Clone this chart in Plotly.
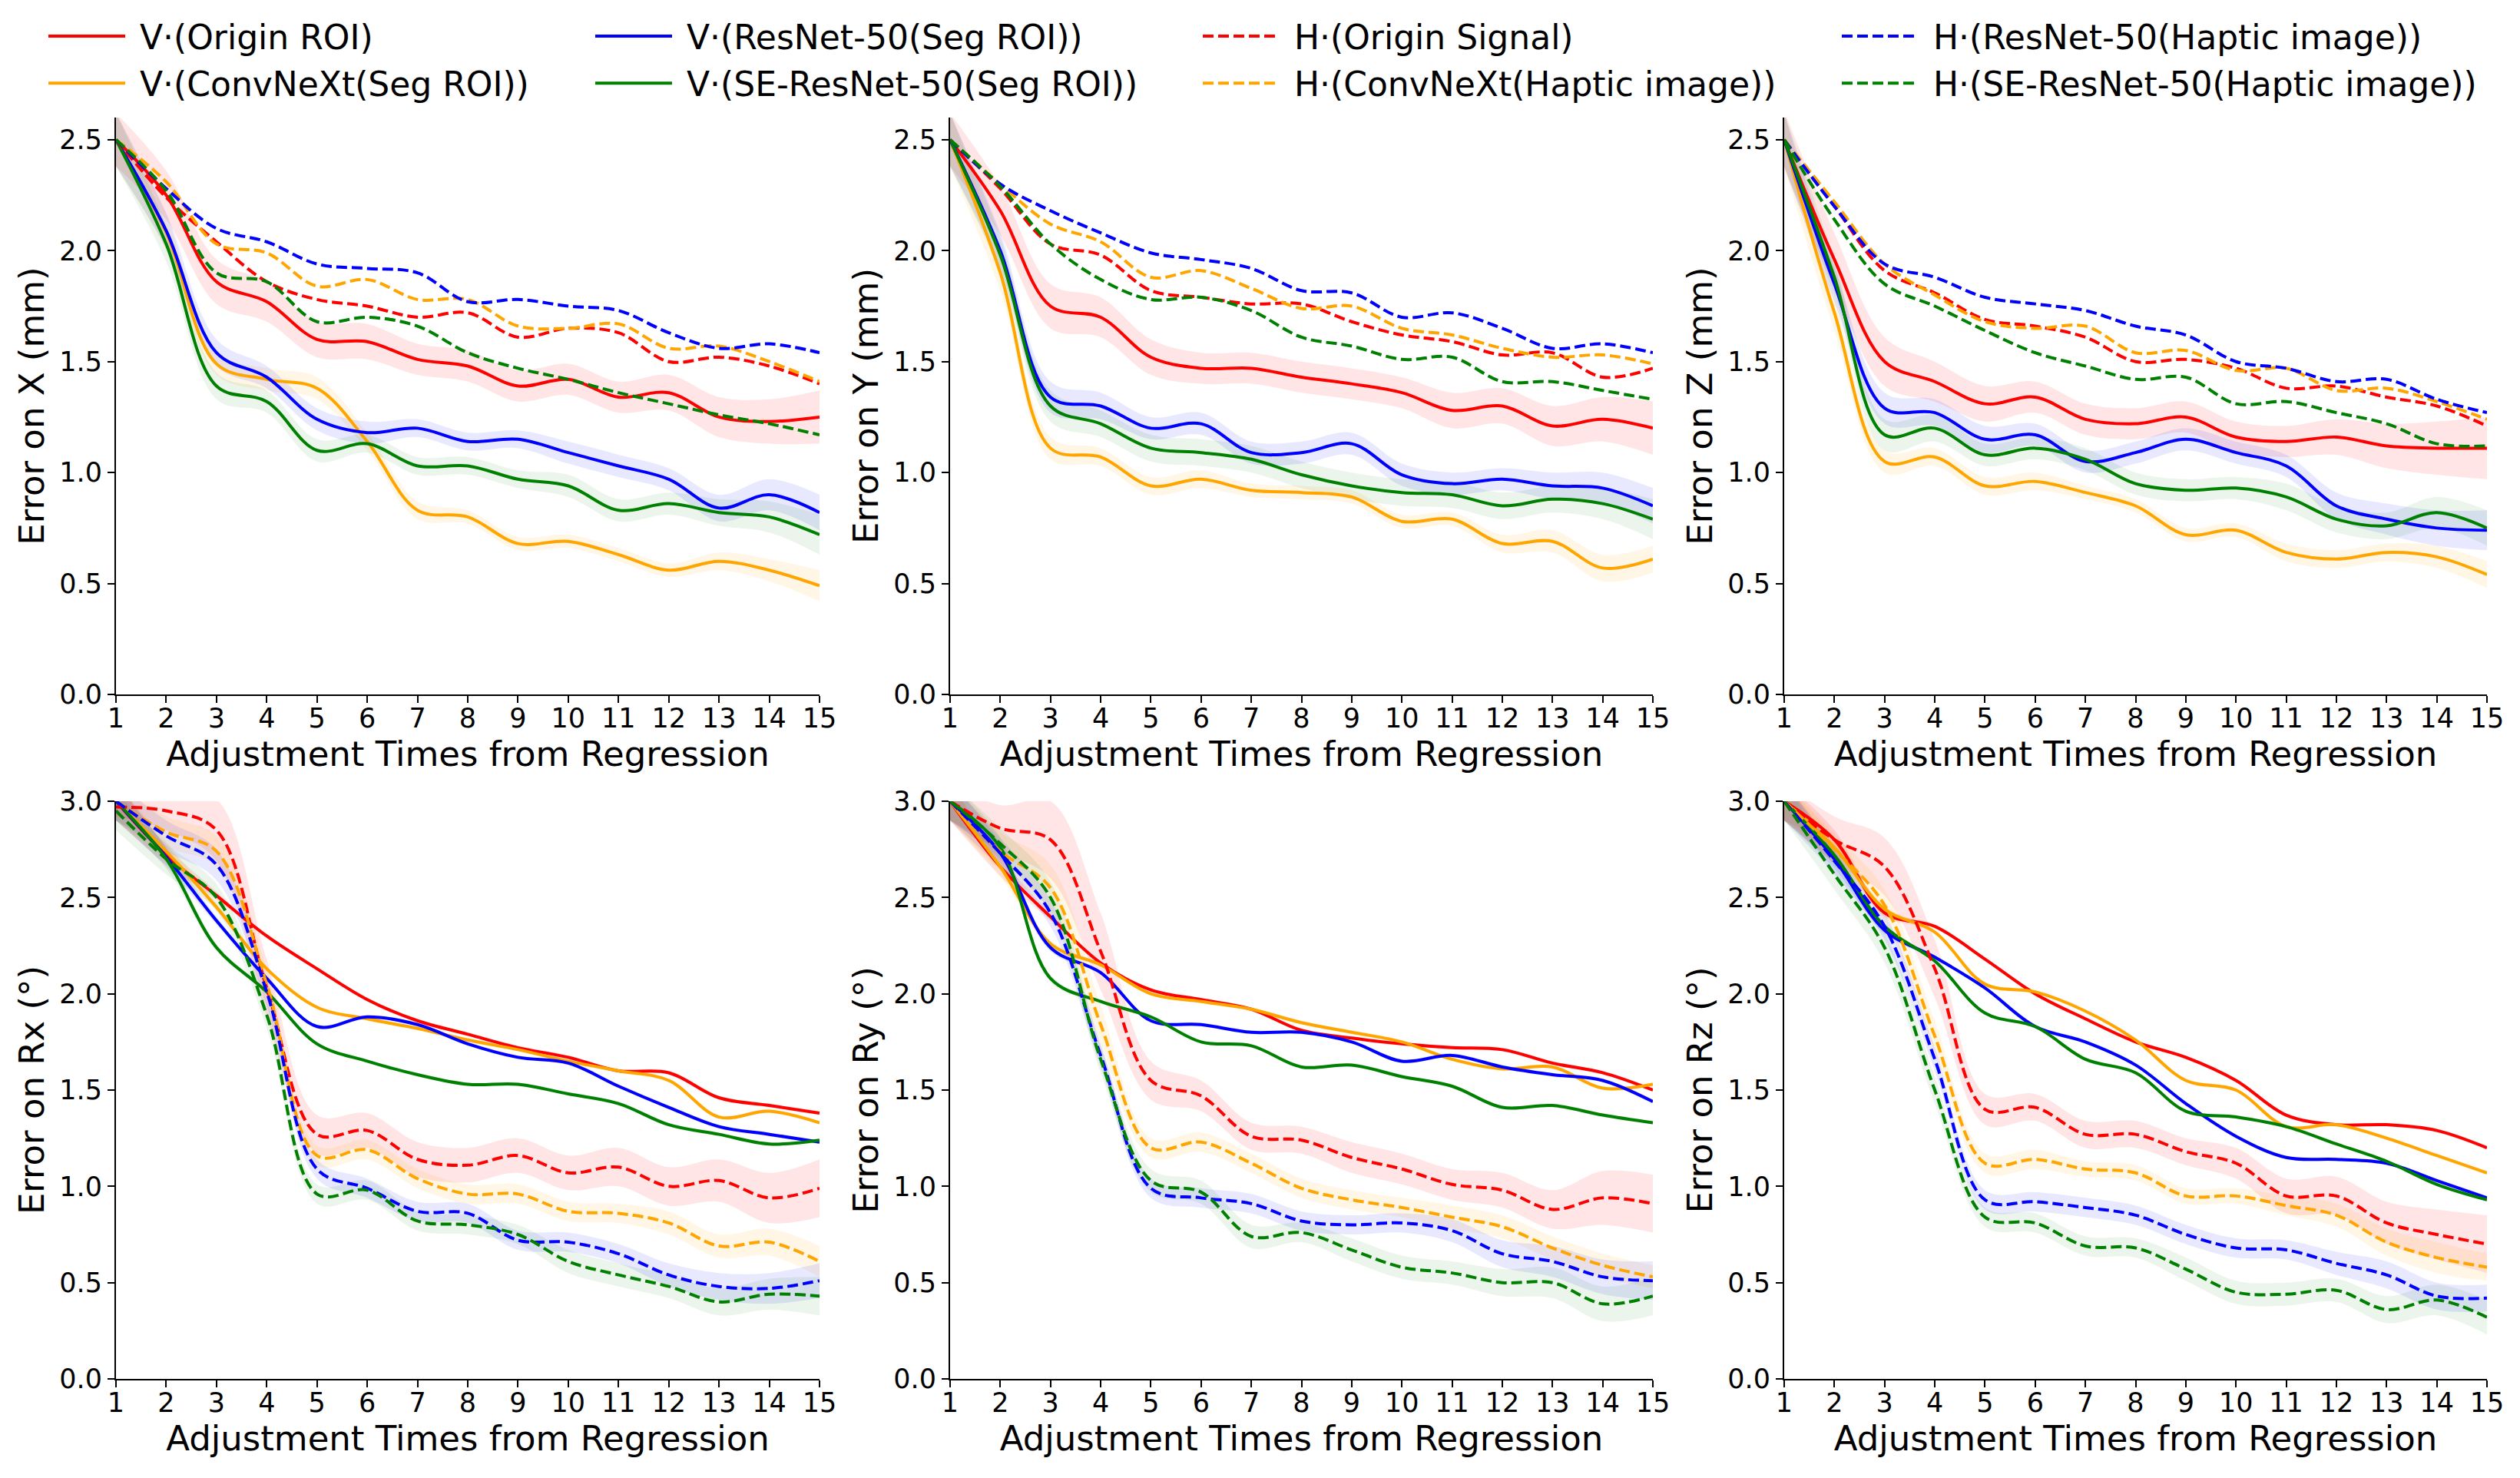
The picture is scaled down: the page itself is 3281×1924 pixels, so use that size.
import plotly.graph_objects as go

X = list(range(1, 16))
XTICKS = list(range(1, 16))
NAMES = ["V·(Origin ROI)", "V·(ConvNeXt(Seg ROI))", "V·(ResNet-50(Seg ROI))", "V·(SE-ResNet-50(Seg ROI))",
         "H·(Origin Signal)", "H·(ConvNeXt(Haptic image))", "H·(ResNet-50(Haptic image))", "H·(SE-ResNet-50(Haptic image))"]
YTITLES = ["Error on X (mm)", "Error on Y (mm)", "Error on Z (mm)",
           "Error on Rx (°)", "Error on Ry (°)", "Error on Rz (°)"]
XTITLE = "Adjustment Times from Regression"

# ---------- Error on X ----------
X_V_ORI = [2.50, 2.25, 1.86, 1.77, 1.60, 1.59, 1.51, 1.48, 1.39, 1.42, 1.34, 1.36, 1.25, 1.23, 1.25]
X_V_CNX = [2.50, 2.08, 1.49, 1.42, 1.38, 1.14, 0.83, 0.80, 0.68, 0.69, 0.63, 0.56, 0.60, 0.56, 0.49]
X_V_RES = [2.50, 2.09, 1.54, 1.43, 1.24, 1.18, 1.20, 1.14, 1.15, 1.09, 1.03, 0.97, 0.84, 0.90, 0.82]
X_V_SER = [2.50, 2.03, 1.39, 1.32, 1.10, 1.13, 1.03, 1.03, 0.97, 0.94, 0.83, 0.86, 0.82, 0.80, 0.72]
X_H_ORI = [2.50, 2.24, 2.04, 1.86, 1.78, 1.75, 1.70, 1.72, 1.61, 1.65, 1.63, 1.50, 1.52, 1.48, 1.40]
X_H_CNX = [2.50, 2.31, 2.03, 1.99, 1.84, 1.87, 1.78, 1.78, 1.66, 1.65, 1.67, 1.56, 1.57, 1.50, 1.41]
X_H_RES = [2.50, 2.28, 2.10, 2.04, 1.94, 1.92, 1.90, 1.77, 1.78, 1.75, 1.73, 1.63, 1.56, 1.58, 1.54]
X_H_SER = [2.50, 2.27, 1.90, 1.86, 1.68, 1.70, 1.66, 1.54, 1.47, 1.42, 1.36, 1.31, 1.26, 1.22, 1.17]
X_V_ORI_SD = [0.12, 0.11, 0.10, 0.09, 0.08, 0.08, 0.07, 0.07, 0.07, 0.07, 0.07, 0.08, 0.09, 0.10, 0.12]
X_V_CNX_SD = [0.12, 0.08, 0.05, 0.05, 0.05, 0.04, 0.04, 0.03, 0.03, 0.03, 0.03, 0.03, 0.04, 0.05, 0.07]
X_V_RES_SD = [0.12, 0.08, 0.06, 0.05, 0.05, 0.05, 0.04, 0.04, 0.04, 0.05, 0.05, 0.05, 0.06, 0.07, 0.08]
X_V_SER_SD = [0.12, 0.08, 0.06, 0.05, 0.05, 0.04, 0.04, 0.04, 0.04, 0.05, 0.05, 0.05, 0.06, 0.07, 0.09]

# ---------- Error on Y ----------
Y_V_ORI = [2.50, 2.18, 1.75, 1.70, 1.52, 1.47, 1.47, 1.43, 1.40, 1.36, 1.28, 1.30, 1.21, 1.24, 1.20]
Y_V_CNX = [2.50, 1.90, 1.11, 1.07, 0.94, 0.97, 0.92, 0.91, 0.89, 0.78, 0.79, 0.68, 0.69, 0.57, 0.61]
Y_V_RES = [2.50, 2.00, 1.34, 1.30, 1.20, 1.22, 1.09, 1.09, 1.13, 0.99, 0.95, 0.97, 0.94, 0.93, 0.85]
Y_V_SER = [2.50, 1.98, 1.30, 1.22, 1.11, 1.09, 1.06, 0.99, 0.94, 0.91, 0.90, 0.85, 0.88, 0.86, 0.79]
Y_H_ORI = [2.50, 2.28, 2.03, 1.98, 1.82, 1.79, 1.76, 1.76, 1.68, 1.62, 1.59, 1.53, 1.54, 1.43, 1.47]
Y_H_CNX = [2.50, 2.30, 2.12, 2.04, 1.88, 1.91, 1.83, 1.74, 1.75, 1.65, 1.62, 1.56, 1.52, 1.53, 1.49]
Y_H_RES = [2.50, 2.30, 2.18, 2.08, 1.99, 1.96, 1.92, 1.82, 1.81, 1.70, 1.72, 1.65, 1.56, 1.58, 1.54]
Y_H_SER = [2.50, 2.29, 2.03, 1.87, 1.78, 1.79, 1.73, 1.61, 1.57, 1.51, 1.52, 1.41, 1.41, 1.37, 1.33]
Y_V_ORI_SD = [0.12, 0.11, 0.10, 0.09, 0.08, 0.07, 0.07, 0.07, 0.07, 0.07, 0.08, 0.08, 0.09, 0.10, 0.12]
Y_V_CNX_SD = [0.12, 0.08, 0.05, 0.04, 0.04, 0.04, 0.03, 0.03, 0.03, 0.03, 0.03, 0.04, 0.05, 0.06, 0.06]
Y_V_RES_SD = [0.12, 0.08, 0.07, 0.06, 0.05, 0.05, 0.05, 0.05, 0.05, 0.05, 0.05, 0.05, 0.06, 0.07, 0.08]
Y_V_SER_SD = [0.12, 0.08, 0.07, 0.06, 0.06, 0.06, 0.06, 0.06, 0.06, 0.06, 0.06, 0.06, 0.06, 0.07, 0.09]

# ---------- Error on Z ----------
Z_V_ORI = [2.50, 1.96, 1.50, 1.41, 1.31, 1.34, 1.24, 1.22, 1.25, 1.16, 1.14, 1.16, 1.12, 1.11, 1.11]
Z_V_CNX = [2.50, 1.72, 1.05, 1.07, 0.94, 0.96, 0.91, 0.85, 0.72, 0.74, 0.64, 0.61, 0.64, 0.62, 0.54]
Z_V_RES = [2.50, 1.85, 1.29, 1.27, 1.15, 1.17, 1.05, 1.09, 1.15, 1.09, 1.03, 0.85, 0.79, 0.75, 0.74]
Z_V_SER = [2.50, 1.88, 1.17, 1.20, 1.08, 1.11, 1.06, 0.95, 0.92, 0.93, 0.89, 0.79, 0.76, 0.82, 0.75]
Z_H_ORI = [2.50, 2.20, 1.91, 1.81, 1.69, 1.66, 1.61, 1.50, 1.51, 1.47, 1.38, 1.39, 1.34, 1.30, 1.21]
Z_H_CNX = [2.50, 2.22, 1.94, 1.80, 1.68, 1.65, 1.66, 1.54, 1.55, 1.46, 1.47, 1.37, 1.38, 1.32, 1.24]
Z_H_RES = [2.50, 2.20, 1.94, 1.88, 1.79, 1.76, 1.73, 1.66, 1.62, 1.50, 1.47, 1.41, 1.42, 1.33, 1.27]
Z_H_SER = [2.50, 2.14, 1.85, 1.75, 1.64, 1.54, 1.48, 1.42, 1.43, 1.31, 1.32, 1.27, 1.22, 1.13, 1.12]
Z_V_ORI_SD = [0.13, 0.12, 0.11, 0.09, 0.08, 0.07, 0.07, 0.07, 0.07, 0.07, 0.07, 0.08, 0.10, 0.12, 0.14]
Z_V_CNX_SD = [0.12, 0.08, 0.05, 0.04, 0.04, 0.04, 0.03, 0.03, 0.03, 0.03, 0.04, 0.04, 0.04, 0.05, 0.06]
Z_V_RES_SD = [0.12, 0.08, 0.07, 0.06, 0.06, 0.05, 0.05, 0.05, 0.05, 0.05, 0.05, 0.06, 0.07, 0.08, 0.09]
Z_V_SER_SD = [0.12, 0.08, 0.07, 0.06, 0.05, 0.05, 0.05, 0.05, 0.05, 0.05, 0.06, 0.06, 0.06, 0.07, 0.08]

# ---------- Error on Rx ----------
RX_V_ORI = [3.00, 2.72, 2.51, 2.30, 2.13, 1.97, 1.86, 1.79, 1.72, 1.67, 1.60, 1.59, 1.46, 1.42, 1.38]
RX_V_CNX = [3.00, 2.74, 2.45, 2.13, 1.93, 1.87, 1.82, 1.76, 1.71, 1.65, 1.60, 1.55, 1.36, 1.39, 1.33]
RX_V_RES = [3.00, 2.71, 2.38, 2.08, 1.83, 1.88, 1.84, 1.74, 1.67, 1.64, 1.52, 1.41, 1.31, 1.27, 1.23]
RX_V_SER = [3.00, 2.70, 2.24, 2.01, 1.74, 1.65, 1.58, 1.53, 1.53, 1.48, 1.43, 1.32, 1.27, 1.22, 1.24]
RX_H_ORI = [2.97, 2.95, 2.85, 2.03, 1.27, 1.29, 1.14, 1.11, 1.16, 1.07, 1.10, 1.00, 1.03, 0.94, 0.99]
RX_H_CNX = [3.00, 2.84, 2.74, 2.05, 1.16, 1.19, 1.04, 0.96, 0.96, 0.87, 0.86, 0.81, 0.69, 0.71, 0.61]
RX_H_RES = [3.00, 2.82, 2.67, 2.01, 1.09, 0.99, 0.87, 0.86, 0.72, 0.71, 0.65, 0.54, 0.48, 0.47, 0.51]
RX_H_SER = [2.95, 2.70, 2.50, 1.89, 0.96, 0.98, 0.82, 0.80, 0.75, 0.61, 0.54, 0.48, 0.40, 0.44, 0.43]
RX_V_ORI_SD = [0.10, 0.05, 0.02, 0.01, 0.01, 0.01, 0.01, 0.01, 0.01, 0.01, 0.01, 0.01, 0.01, 0.01, 0.01]
RX_V_CNX_SD = [0.10, 0.05, 0.02, 0.01, 0.01, 0.01, 0.01, 0.01, 0.01, 0.01, 0.01, 0.01, 0.01, 0.01, 0.01]
RX_V_RES_SD = [0.10, 0.05, 0.02, 0.01, 0.01, 0.01, 0.01, 0.01, 0.01, 0.01, 0.01, 0.01, 0.01, 0.01, 0.01]
RX_V_SER_SD = [0.10, 0.05, 0.02, 0.01, 0.01, 0.01, 0.01, 0.01, 0.01, 0.01, 0.01, 0.01, 0.01, 0.01, 0.01]
RX_H_ORI_SD = [0.05, 0.10, 0.16, 0.15, 0.10, 0.09, 0.09, 0.09, 0.09, 0.09, 0.10, 0.10, 0.11, 0.13, 0.15]
RX_H_CNX_SD = [0.10, 0.08, 0.08, 0.08, 0.05, 0.05, 0.05, 0.05, 0.05, 0.05, 0.05, 0.06, 0.06, 0.07, 0.08]
RX_H_RES_SD = [0.10, 0.08, 0.08, 0.07, 0.05, 0.05, 0.05, 0.05, 0.05, 0.05, 0.05, 0.06, 0.07, 0.08, 0.09]
RX_H_SER_SD = [0.10, 0.08, 0.07, 0.07, 0.05, 0.05, 0.05, 0.05, 0.05, 0.06, 0.06, 0.06, 0.07, 0.08, 0.10]

# ---------- Error on Ry ----------
RY_V_ORI = [3.00, 2.66, 2.40, 2.16, 2.02, 1.97, 1.92, 1.81, 1.77, 1.74, 1.72, 1.71, 1.64, 1.59, 1.50]
RY_V_CNX = [3.00, 2.66, 2.26, 2.15, 2.00, 1.96, 1.92, 1.85, 1.80, 1.75, 1.66, 1.61, 1.62, 1.51, 1.53]
RY_V_RES = [3.00, 2.73, 2.24, 2.11, 1.86, 1.84, 1.80, 1.80, 1.75, 1.65, 1.68, 1.62, 1.58, 1.55, 1.44]
RY_V_SER = [3.00, 2.76, 2.08, 1.96, 1.88, 1.75, 1.73, 1.62, 1.63, 1.57, 1.52, 1.41, 1.42, 1.37, 1.33]
RY_H_ORI = [3.00, 2.86, 2.80, 2.22, 1.55, 1.47, 1.26, 1.24, 1.15, 1.09, 1.01, 0.98, 0.88, 0.94, 0.91]
RY_H_CNX = [3.00, 2.74, 2.55, 1.84, 1.20, 1.23, 1.12, 0.99, 0.93, 0.89, 0.84, 0.79, 0.68, 0.59, 0.53]
RY_H_RES = [3.00, 2.73, 2.42, 1.68, 0.99, 0.94, 0.91, 0.82, 0.80, 0.81, 0.77, 0.65, 0.61, 0.53, 0.51]
RY_H_SER = [3.00, 2.78, 2.50, 1.66, 1.03, 0.97, 0.74, 0.76, 0.67, 0.58, 0.55, 0.50, 0.50, 0.39, 0.43]
RY_V_ORI_SD = [0.10, 0.05, 0.02, 0.01, 0.01, 0.01, 0.01, 0.01, 0.01, 0.01, 0.01, 0.01, 0.01, 0.01, 0.01]
RY_V_CNX_SD = [0.10, 0.05, 0.02, 0.01, 0.01, 0.01, 0.01, 0.01, 0.01, 0.01, 0.01, 0.01, 0.01, 0.01, 0.01]
RY_V_RES_SD = [0.10, 0.05, 0.02, 0.01, 0.01, 0.01, 0.01, 0.01, 0.01, 0.01, 0.01, 0.01, 0.01, 0.01, 0.01]
RY_V_SER_SD = [0.10, 0.05, 0.02, 0.01, 0.01, 0.01, 0.01, 0.01, 0.01, 0.01, 0.01, 0.01, 0.01, 0.01, 0.01]
RY_H_ORI_SD = [0.10, 0.12, 0.20, 0.20, 0.10, 0.08, 0.07, 0.07, 0.08, 0.08, 0.08, 0.09, 0.10, 0.14, 0.15]
RY_H_CNX_SD = [0.10, 0.10, 0.12, 0.10, 0.05, 0.05, 0.05, 0.05, 0.05, 0.05, 0.06, 0.06, 0.06, 0.06, 0.06]
RY_H_RES_SD = [0.10, 0.08, 0.07, 0.06, 0.05, 0.05, 0.05, 0.05, 0.05, 0.05, 0.06, 0.07, 0.08, 0.09, 0.10]
RY_H_SER_SD = [0.10, 0.08, 0.08, 0.07, 0.06, 0.06, 0.06, 0.05, 0.06, 0.06, 0.06, 0.07, 0.08, 0.09, 0.10]

# ---------- Error on Rz ----------
RZ_V_ORI = [3.00, 2.80, 2.42, 2.35, 2.18, 2.00, 1.87, 1.75, 1.67, 1.55, 1.37, 1.32, 1.32, 1.29, 1.20]
RZ_V_CNX = [3.00, 2.76, 2.44, 2.32, 2.05, 2.01, 1.91, 1.76, 1.55, 1.50, 1.31, 1.32, 1.25, 1.16, 1.07]
RZ_V_RES = [3.00, 2.70, 2.33, 2.19, 2.03, 1.83, 1.75, 1.63, 1.43, 1.26, 1.15, 1.14, 1.12, 1.03, 0.94]
RZ_V_SER = [3.00, 2.72, 2.35, 2.17, 1.90, 1.83, 1.66, 1.59, 1.39, 1.36, 1.31, 1.22, 1.13, 1.01, 0.93]
RZ_H_ORI = [3.00, 2.80, 2.66, 2.13, 1.40, 1.41, 1.27, 1.27, 1.18, 1.12, 0.95, 0.95, 0.81, 0.75, 0.70]
RZ_H_CNX = [3.00, 2.75, 2.46, 1.78, 1.12, 1.14, 1.09, 1.07, 0.95, 0.95, 0.90, 0.85, 0.71, 0.63, 0.58]
RZ_H_RES = [3.00, 2.69, 2.35, 1.66, 0.93, 0.92, 0.89, 0.85, 0.75, 0.68, 0.67, 0.60, 0.54, 0.43, 0.42]
RZ_H_SER = [3.00, 2.62, 2.24, 1.50, 0.84, 0.81, 0.69, 0.68, 0.57, 0.45, 0.44, 0.46, 0.36, 0.41, 0.32]
RZ_V_ORI_SD = [0.10, 0.05, 0.02, 0.01, 0.01, 0.01, 0.01, 0.01, 0.01, 0.01, 0.01, 0.01, 0.01, 0.01, 0.01]
RZ_V_CNX_SD = [0.10, 0.05, 0.02, 0.01, 0.01, 0.01, 0.01, 0.01, 0.01, 0.01, 0.01, 0.01, 0.01, 0.01, 0.01]
RZ_V_RES_SD = [0.10, 0.05, 0.02, 0.01, 0.01, 0.01, 0.01, 0.01, 0.01, 0.01, 0.01, 0.01, 0.01, 0.01, 0.01]
RZ_V_SER_SD = [0.10, 0.05, 0.02, 0.01, 0.01, 0.01, 0.01, 0.01, 0.01, 0.01, 0.01, 0.01, 0.01, 0.01, 0.01]
RZ_H_ORI_SD = [0.10, 0.12, 0.15, 0.15, 0.08, 0.07, 0.07, 0.07, 0.07, 0.08, 0.09, 0.10, 0.11, 0.13, 0.15]
RZ_H_CNX_SD = [0.10, 0.08, 0.08, 0.08, 0.05, 0.05, 0.04, 0.04, 0.04, 0.04, 0.05, 0.06, 0.07, 0.08, 0.07]
RZ_H_RES_SD = [0.10, 0.07, 0.07, 0.06, 0.05, 0.05, 0.05, 0.05, 0.05, 0.05, 0.05, 0.06, 0.07, 0.07, 0.07]
RZ_H_SER_SD = [0.10, 0.08, 0.08, 0.07, 0.05, 0.05, 0.05, 0.05, 0.06, 0.06, 0.06, 0.06, 0.07, 0.08, 0.09]

PANELS = [
    ([X_V_ORI, X_V_CNX, X_V_RES, X_V_SER, X_H_ORI, X_H_CNX, X_H_RES, X_H_SER],
     [X_V_ORI_SD, X_V_CNX_SD, X_V_RES_SD, X_V_SER_SD, None, None, None, None], 2.6),
    ([Y_V_ORI, Y_V_CNX, Y_V_RES, Y_V_SER, Y_H_ORI, Y_H_CNX, Y_H_RES, Y_H_SER],
     [Y_V_ORI_SD, Y_V_CNX_SD, Y_V_RES_SD, Y_V_SER_SD, None, None, None, None], 2.6),
    ([Z_V_ORI, Z_V_CNX, Z_V_RES, Z_V_SER, Z_H_ORI, Z_H_CNX, Z_H_RES, Z_H_SER],
     [Z_V_ORI_SD, Z_V_CNX_SD, Z_V_RES_SD, Z_V_SER_SD, None, None, None, None], 2.6),
    ([RX_V_ORI, RX_V_CNX, RX_V_RES, RX_V_SER, RX_H_ORI, RX_H_CNX, RX_H_RES, RX_H_SER],
     [RX_V_ORI_SD, RX_V_CNX_SD, RX_V_RES_SD, RX_V_SER_SD, RX_H_ORI_SD, RX_H_CNX_SD, RX_H_RES_SD, RX_H_SER_SD], 3.0),
    ([RY_V_ORI, RY_V_CNX, RY_V_RES, RY_V_SER, RY_H_ORI, RY_H_CNX, RY_H_RES, RY_H_SER],
     [RY_V_ORI_SD, RY_V_CNX_SD, RY_V_RES_SD, RY_V_SER_SD, RY_H_ORI_SD, RY_H_CNX_SD, RY_H_RES_SD, RY_H_SER_SD], 3.0),
    ([RZ_V_ORI, RZ_V_CNX, RZ_V_RES, RZ_V_SER, RZ_H_ORI, RZ_H_CNX, RZ_H_RES, RZ_H_SER],
     [RZ_V_ORI_SD, RZ_V_CNX_SD, RZ_V_RES_SD, RZ_V_SER_SD, RZ_H_ORI_SD, RZ_H_CNX_SD, RZ_H_RES_SD, RZ_H_SER_SD], 3.0),
]

COLORS = ["#ff0000", "#ffa500", "#0000ff", "#008000"] * 2
FILLS = ["rgba(255,0,0,0.10)", "rgba(255,165,0,0.10)", "rgba(0,0,255,0.09)", "rgba(0,128,0,0.08)"] * 2
DASHES = ["solid"] * 4 + ["14px,6px"] * 4
LEGENDS = ["legend", "legend", "legend2", "legend2", "legend3", "legend3", "legend4", "legend4"]

W, H = 3281, 1924
OFF = 8  # page body margin offset


def px_x(p):
    return (p - OFF) / W


def px_y(p):
    return 1 - (p - OFF) / H


XDOM = [(px_x(151), px_x(1067)), (px_x(1237), px_x(2152)), (px_x(2323), px_x(3238))]
YDOM = [(px_y(904), px_y(153)), (px_y(1795), px_y(1043))]
FONT = "DejaVu Sans"

fig = go.Figure()
for p, (vals, sds, ymax) in enumerate(PANELS):
    ax = "" if p == 0 else str(p + 1)
    xa, ya = "x" + ax, "y" + ax
    for k in range(8):
        sd = sds[k]
        if sd is None:
            continue
        lo = [v - s for v, s in zip(vals[k], sd)]
        hi = [v + s for v, s in zip(vals[k], sd)]
        fig.add_trace(go.Scatter(x=X, y=lo, mode="lines", line=dict(width=0, shape="spline"),
                                 showlegend=False, hoverinfo="skip", xaxis=xa, yaxis=ya))
        fig.add_trace(go.Scatter(x=X, y=hi, mode="lines", line=dict(width=0, shape="spline"),
                                 fill="tonexty", fillcolor=FILLS[k], showlegend=False,
                                 hoverinfo="skip", xaxis=xa, yaxis=ya))
    for k in range(8):
        fig.add_trace(go.Scatter(x=X, y=vals[k], mode="lines", name="\u00a0" + NAMES[k],
                                 line=dict(color=COLORS[k], width=4, dash=DASHES[k], shape="spline"),
                                 showlegend=(p == 0), legend=LEGENDS[k], legendgroup=NAMES[k],
                                 xaxis=xa, yaxis=ya))
    r, c = divmod(p, 3)
    axis_common = dict(showline=True, linecolor="black", linewidth=2, ticks="outside",
                       ticklen=9, tickwidth=2, tickcolor="black", showgrid=False, zeroline=False,
                       tickfont=dict(family=FONT, size=35, color="black"), automargin=False)
    fig.layout["xaxis" + ax] = dict(domain=XDOM[c], anchor=ya, range=[1, 15], tickvals=XTICKS,
                                    ticklabelstandoff=-10,
                                    title=dict(text=XTITLE, font=dict(family=FONT, size=45, color="black"), standoff=8),
                                    **axis_common)
    fig.layout["yaxis" + ax] = dict(domain=YDOM[r], anchor=xa, range=[0, ymax],
                                    tickvals=[i * 0.5 for i in range(int(ymax / 0.5) + 1)],
                                    tickformat=".1f",
                                    title=dict(text=YTITLES[p], font=dict(family=FONT, size=45, color="black"), standoff=6),
                                    **axis_common)

leg_common = dict(font=dict(family=FONT, size=44, color="black"), bgcolor="rgba(0,0,0,0)",
                  borderwidth=0, yanchor="top", xanchor="left", itemwidth=100,
                  tracegroupgap=1, traceorder="grouped", itemclick=False)
LEG_Y = 1 - 4 / H
fig.update_layout(
    width=W, height=H, margin=dict(l=0, r=0, t=0, b=0),
    plot_bgcolor="white", paper_bgcolor="white",
    font=dict(family=FONT, color="black"),
    legend=dict(x=50 / W, y=LEG_Y, **leg_common),
    legend2=dict(x=762 / W, y=LEG_Y, **leg_common),
    legend3=dict(x=1553 / W, y=LEG_Y, **leg_common),
    legend4=dict(x=2385 / W, y=LEG_Y, **leg_common),
)
fig.write_html("out.html")
